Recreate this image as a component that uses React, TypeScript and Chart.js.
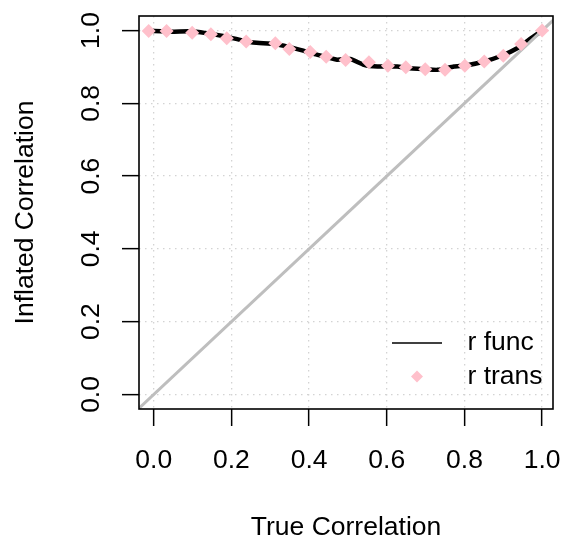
import React, { useEffect, useRef } from "react";
import { Chart, registerables } from "chart.js";

Chart.register(...registerables);

// ---- data ----
const seriesLabels = ["r func", "r trans"];
const xTitle = "True Correlation";
const yTitle = "Inflated Correlation";
const tickValues = [0, 0.2, 0.4, 0.6, 0.8, 1.0];

// "r trans" points (pink diamonds)
const transX = [-0.013, 0.033, 0.099, 0.147, 0.188, 0.238, 0.313, 0.349, 0.403, 0.444, 0.494, 0.554, 0.603, 0.649, 0.699, 0.75, 0.801, 0.851, 0.9, 0.946, 1.0];
const transY = [0.999, 0.999, 0.994, 0.99, 0.979, 0.97, 0.965, 0.949, 0.941, 0.928, 0.919, 0.913, 0.903, 0.899, 0.894, 0.892, 0.903, 0.915, 0.931, 0.963, 1.0];

// "r func" line (black, wobbly)
const funcX = [-0.012, 0.05, 0.093, 0.134, 0.178, 0.212, 0.256, 0.313, 0.377, 0.42, 0.472, 0.506, 0.541, 0.576, 0.627, 0.653, 0.695, 0.73, 0.773, 0.804, 0.851, 0.894, 0.937, 0.972, 1.0];
const funcY = [0.999, 0.997, 0.998, 0.993, 0.985, 0.977, 0.967, 0.963, 0.947, 0.934, 0.92, 0.922, 0.906, 0.901, 0.901, 0.897, 0.894, 0.892, 0.901, 0.904, 0.915, 0.93, 0.952, 0.979, 1.0];

// identity reference line
const diagonalX = [-0.2, 1.2];
const diagonalY = [-0.2, 1.2];

const axisMin = -0.038;
const axisMaxX = 1.028;
const yMin = -0.04;
const yMax = 1.04;

const FONT = '"Liberation Sans", Arial, Helvetica, sans-serif';
const FS = 26.5;

const framePlugin = {
  id: "rFrame",
  afterDatasetsDraw(chart: any) {
    const { ctx, chartArea: a } = chart;
    ctx.save();
    ctx.strokeStyle = "#000";
    ctx.lineWidth = 1.6;
    ctx.strokeRect(a.left, a.top, a.right - a.left, a.bottom - a.top);
    ctx.restore();
  },
  afterDraw(chart: any) {
    const { ctx, chartArea: a } = chart;
    ctx.save();
    const row1 = a.bottom - 66;
    const row2 = a.bottom - 32.5;
    // line sample
    ctx.strokeStyle = "#000";
    ctx.lineWidth = 1.5;
    ctx.beginPath();
    ctx.moveTo(a.right - 161, row1);
    ctx.lineTo(a.right - 111, row1);
    ctx.stroke();
    // diamond sample
    const cx = a.right - 136;
    const r = 6;
    ctx.fillStyle = "#FFC0CB";
    ctx.beginPath();
    ctx.moveTo(cx, row2 - r);
    ctx.lineTo(cx + r, row2);
    ctx.lineTo(cx, row2 + r);
    ctx.lineTo(cx - r, row2);
    ctx.closePath();
    ctx.fill();
    // text
    ctx.fillStyle = "#000";
    ctx.font = `${FS}px ${FONT}`;
    ctx.textAlign = "left";
    ctx.textBaseline = "middle";
    ctx.fillText(seriesLabels[0], a.right - 85.5, row1);
    ctx.fillText(seriesLabels[1], a.right - 85.5, row2);
    ctx.restore();
  },
};

export default function App() {
  const ref = useRef<HTMLCanvasElement | null>(null);

  useEffect(() => {
    if (!ref.current) return;
    const gridCommon = {
      color: "#D3D3D3",
      lineWidth: 1.3,
      drawTicks: true,
      tickLength: 17,
      tickColor: "#000",
      tickWidth: 1.5,
    };
    const chart = new Chart(ref.current, {
      type: "scatter",
      data: {
        datasets: [
          {
            label: seriesLabels[1],
            data: transX.map((x, i) => ({ x, y: transY[i] })),
            showLine: false,
            pointStyle: "rectRot",
            pointRadius: 7,
            backgroundColor: "#FFC0CB",
            borderColor: "#FFC0CB",
            borderWidth: 0,
            order: 0,
          },
          {
            label: "identity",
            data: diagonalX.map((x, i) => ({ x, y: diagonalY[i] })),
            showLine: true,
            pointRadius: 0,
            borderColor: "#BEBEBE",
            borderWidth: 3,
            clip: 0,
            order: 1,
          },
          {
            label: seriesLabels[0],
            data: funcX.map((x, i) => ({ x, y: funcY[i] })),
            showLine: true,
            pointRadius: 0,
            borderColor: "#000",
            borderWidth: 4.5,
            tension: 0.15,
            order: 2,
          },
        ],
      },
      options: {
        responsive: false,
        animation: false,
        devicePixelRatio: 1,
        layout: { padding: { top: 16, right: 10, left: 0, bottom: 0 } },
        plugins: { legend: { display: false }, tooltip: { enabled: false } },
        scales: {
          x: {
            type: "linear",
            min: axisMin,
            max: axisMaxX,
            afterBuildTicks: (s: any) => {
              s.ticks = tickValues.map((v) => ({ value: v }));
            },
            afterFit: (s: any) => {
              s.height = 129;
              s.paddingLeft = 0;
              s.paddingRight = 0;
              s.paddingTop = 0;
              s.paddingBottom = 0;
            },
            grid: gridCommon,
            border: { display: false, dash: [1.5, 4.5] },
            ticks: {
              color: "#000",
              font: { family: FONT, size: FS },
              padding: 19,
              minRotation: 0,
              maxRotation: 0,
              callback: (v: any) => Number(v).toFixed(1),
            },
            title: {
              display: true,
              text: xTitle,
              color: "#000",
              font: { family: FONT, size: FS, lineHeight: 0.76 },
              padding: { top: 0, bottom: 0 },
            },
          },
          y: {
            type: "linear",
            min: yMin,
            max: yMax,
            afterBuildTicks: (s: any) => {
              s.ticks = tickValues.map((v) => ({ value: v }));
            },
            afterFit: (s: any) => {
              s.width = 139;
              s.paddingLeft = 0;
              s.paddingRight = 0;
              s.paddingTop = 0;
              s.paddingBottom = 0;
            },
            grid: gridCommon,
            border: { display: false, dash: [1.5, 4.5] },
            ticks: {
              color: "#000",
              font: { family: FONT, size: FS },
              padding: 11.6,
              minRotation: 90,
              maxRotation: 90,
              crossAlign: "center",
              callback: (v: any) => Number(v).toFixed(1),
            },
            title: {
              display: true,
              text: yTitle,
              color: "#000",
              font: { family: FONT, size: FS, lineHeight: 1 },
              padding: { top: 12, bottom: 0 },
            },
          },
        },
      },
      plugins: [framePlugin],
    } as any);
    return () => chart.destroy();
  }, []);

  return (
    <div style={{ position: "fixed", left: 0, top: 0, width: 563, height: 538, background: "#fff" }}>
      <canvas ref={ref} width={563} height={538} style={{ display: "block" }} />
    </div>
  );
}
